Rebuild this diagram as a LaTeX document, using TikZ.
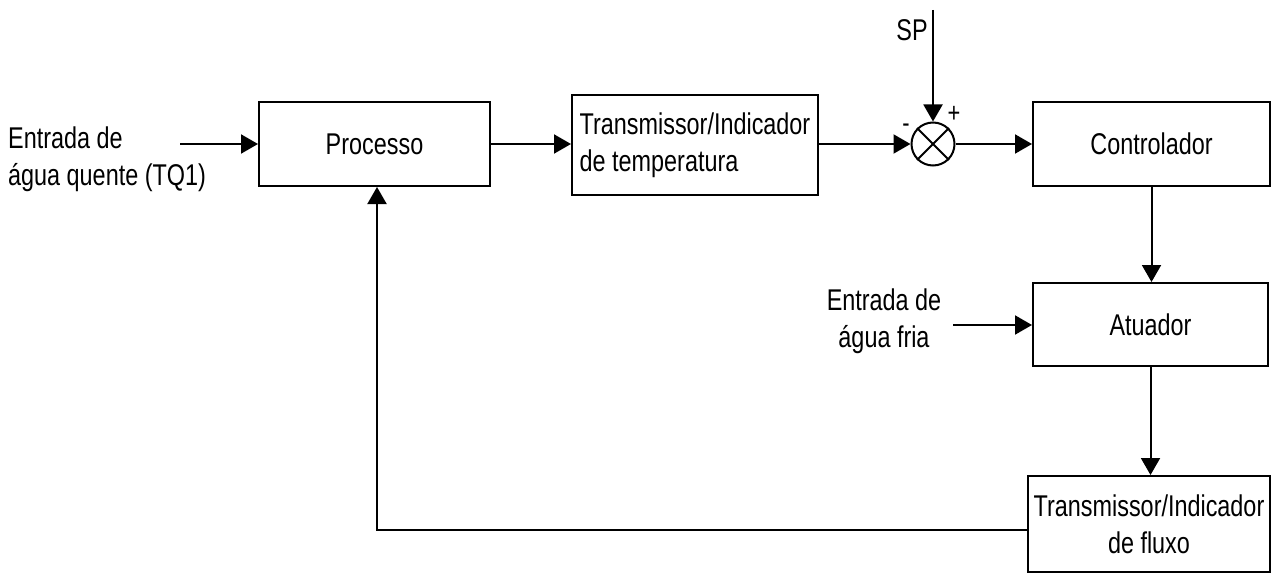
\documentclass[tikz,border=0pt]{standalone}
\usepackage{fontspec}
\setmainfont[FakeStretch=0.78]{Liberation Sans}
\usetikzlibrary{arrows.meta}
\begin{document}
\begin{tikzpicture}[x=1pt,y=-1pt,
  blk/.style={draw, line width=2pt, inner sep=0pt, font=\fontsize{30}{37}\selectfont},
  con/.style={line width=2pt, -{Triangle[length=17pt,width=19pt]}},
  ln/.style={line width=2pt},
  lbl/.style={font=\fontsize{30}{37}\selectfont, inner sep=0pt},
  sgn/.style={font=\fontsize{28}{28}\selectfont, inner sep=0pt}]
\useasboundingbox (0,0) rectangle (1287,575);
\node[blk, minimum width=231pt, minimum height=84pt] (proc) at (374.5,144) {Processo};
\node[blk, minimum width=246pt, minimum height=100pt, align=left] (temp) at (695,145) {Transmissor/Indicador\\de temperatura};
\node[draw, circle, line width=2pt, minimum size=43pt, inner sep=0pt] (sum) at (933,144) {};
\draw[ln] (sum.north west) -- (sum.south east);
\draw[ln] (sum.north east) -- (sum.south west);
\node[blk, minimum width=237pt, minimum height=84pt] (ctrl) at (1151.5,144) {Controlador};
\node[blk, minimum width=235pt, minimum height=83pt] (atu) at (1150.5,324.5) {Atuador};
\node[blk, minimum width=242pt, minimum height=96pt, align=center] (flux) at (1149,524) {Transmissor/Indicador\\de fluxo};
\node[lbl, anchor=west, align=left] (hot) at (8,159) {Entrada de\\água quente (TQ1)};
\node[lbl, align=center] (cold) at (884,321) {Entrada de\\água fria};
\node[lbl] (sptxt) at (912,30) {SP};
\node[sgn] (minus) at (906,128) {-};
\node[sgn] (plus) at (954,114) {+};
\coordinate (in1) at (180,144);
\coordinate (in2) at (953,325);
\coordinate (sp) at (933,10);
\draw[con] (in1) -- (proc.west);
\draw[con] (proc.east) -- (temp.west |- proc.east);
\draw[con] (temp.east |- sum.west) -- (sum.west);
\draw[con] (sp) -- (sum.north);
\draw[con] (sum.east) -- (ctrl.west |- sum.east);
\draw[con] (ctrl.south) -- (ctrl.south |- atu.north);
\draw[con] (in2) -- (atu.west |- in2);
\draw[con] (atu.south) -- (atu.south |- flux.north);
\draw[con] ([yshift=-6pt]flux.west) -| ([xshift=2.5pt]proc.south);
\end{tikzpicture}
\end{document}
